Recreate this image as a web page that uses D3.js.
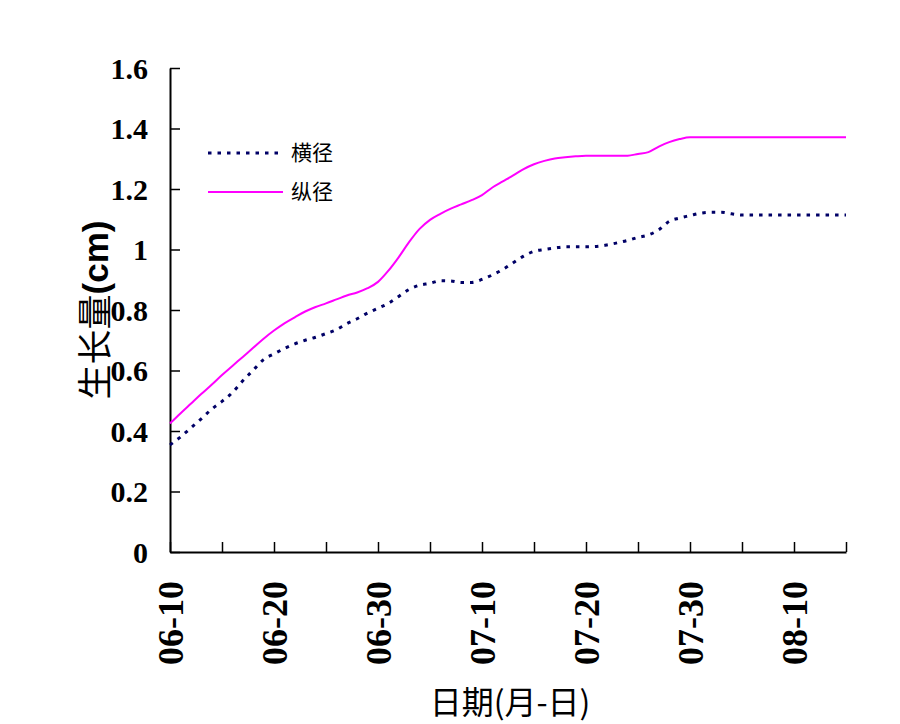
<!DOCTYPE html>
<html lang="zh">
<head>
<meta charset="UTF-8">
<title>生长量</title>
<script src="https://cdn.jsdelivr.net/npm/d3@7/dist/d3.min.js"></script>
<style>
body {
  margin: 0px;
  background: #fff;
}
.tick-label {
  font-family: "Liberation Serif", "Times New Roman", serif;
  font-weight: bold;
  fill: #000;
}
.cjk {
  font-family: "Noto Sans CJK SC", sans-serif;
}
</style>
</head>
<body>
<svg width="900" height="724"></svg>
<script>
// x axis labels every 10 days (category axis, one point per day)
const xTickLabels = ['06-10', '06-20', '06-30', '07-10', '07-20', '07-30', '08-10'];
const yTicks = [0, 0.2, 0.4, 0.6, 0.8, 1, 1.2, 1.4, 1.6];

// 横径, daily values (06-10 .. 08-15)
const hengjing = [
  0.354, 0.380, 0.410, 0.440, 0.472, 0.498, 0.527, 0.566, 0.601, 0.636,
  0.655, 0.673, 0.688, 0.700, 0.710, 0.722, 0.735, 0.755, 0.771, 0.790,
  0.806, 0.822, 0.845, 0.868, 0.882, 0.888, 0.897, 0.896, 0.891, 0.891,
  0.901, 0.916, 0.934, 0.956, 0.978, 0.994, 1.000, 1.005, 1.009, 1.009,
  1.009, 1.010, 1.015, 1.022, 1.030, 1.040, 1.048, 1.065, 1.093, 1.104,
  1.112, 1.120, 1.123, 1.123, 1.118, 1.114, 1.114, 1.114, 1.114, 1.114,
  1.114, 1.114, 1.114, 1.114, 1.114, 1.114
];

// 纵径
const zongjing = [
  0.425, 0.458, 0.490, 0.522, 0.553, 0.585, 0.615, 0.645, 0.675, 0.705,
  0.732, 0.756, 0.776, 0.795, 0.810, 0.822, 0.835, 0.848, 0.858, 0.872,
  0.893, 0.930, 0.975, 1.025, 1.068, 1.098, 1.118, 1.135, 1.149, 1.163,
  1.180, 1.205, 1.225, 1.245, 1.266, 1.282, 1.293, 1.301, 1.305, 1.308,
  1.310, 1.310, 1.310, 1.310, 1.310, 1.316, 1.322, 1.340, 1.355, 1.365,
  1.371, 1.371, 1.371, 1.371, 1.371, 1.371, 1.371, 1.371, 1.371, 1.371,
  1.371, 1.371, 1.371, 1.371, 1.371, 1.371
];

const seriesNames = ['横径', '纵径'];

const svg = d3.select('svg');
const margin = { top: 68, left: 170, right: 54, bottom: 172 };
const width = +svg.attr('width');
const height = +svg.attr('height');

const nDays = hengjing.length - 1;

const x = d3.scaleLinear()
  .domain([0, nDays])
  .range([margin.left, width - margin.right]);

const y = d3.scaleLinear()
  .domain([0, 1.6])
  .range([height - margin.bottom, margin.top]);

// y axis, ticks pointing inward
const yAxisG = svg.append('g')
  .attr('transform', `translate(${margin.left},0)`)
  .call(d3.axisRight(y).tickValues(yTicks).tickSize(10).tickSizeOuter(0).tickFormat(''));
yAxisG.select('.domain').attr('stroke', '#000').attr('stroke-width', 2);
yAxisG.selectAll('.tick line').attr('stroke', '#000').attr('stroke-width', 1.5);

svg.append('g').selectAll('text')
  .data(yTicks)
  .join('text')
    .attr('class', 'tick-label')
    .attr('x', margin.left - 22)
    .attr('y', d => y(d))
    .attr('dy', '0.35em')
    .attr('text-anchor', 'end')
    .attr('font-size', 30)
    .text(d => String(+d.toFixed(1)));

// x axis, ticks every 5 days pointing up
const xTicks = d3.range(0, nDays + 1, 5);
const xAxisG = svg.append('g')
  .attr('transform', `translate(0,${y(0)})`)
  .call(d3.axisTop(x).tickValues(xTicks).tickSize(10).tickSizeOuter(0).tickFormat(''));
xAxisG.select('.domain').attr('stroke', '#000').attr('stroke-width', 2);
xAxisG.selectAll('.tick line').attr('stroke', '#000').attr('stroke-width', 1.5);

svg.append('g').selectAll('text')
  .data(xTickLabels)
  .join('text')
    .attr('class', 'tick-label')
    .attr('font-size', 36)
    .attr('text-anchor', 'end')
    .attr('dy', '0.36em')
    .attr('transform', (d, i) => `translate(${x(i * 10)},${y(0) + 29}) rotate(-90)`)
    .text(d => d);

// axis titles
svg.append('text')
  .attr('class', 'cjk')
  .attr('x', 510)
  .attr('y', 714)
  .attr('text-anchor', 'middle')
  .attr('font-size', 32)
  .text('日期(月-日)');

const yTitle = svg.append('text')
  .attr('class', 'cjk')
  .attr('text-anchor', 'middle')
  .attr('transform', `translate(108,310) rotate(-90)`)
  .attr('font-size', 35);
yTitle.append('tspan').text('生长量');
yTitle.append('tspan')
  .attr('font-family', '"Liberation Sans", Arial, sans-serif')
  .attr('font-weight', 'bold')
  .attr('font-size', 35)
  .text('(cm)');

// lines
const line = d3.line()
  .x((d, i) => x(i))
  .y(d => y(d))
  .curve(d3.curveMonotoneX);

const styles = [
  { stroke: '#000066', width: 3, dash: '3.5,6' },
  { stroke: '#ff00ff', width: 2, dash: null }
];

[hengjing, zongjing].forEach((s, k) => {
  svg.append('path')
    .datum(s)
    .attr('fill', 'none')
    .attr('stroke', styles[k].stroke)
    .attr('stroke-width', styles[k].width)
    .attr('stroke-dasharray', styles[k].dash)
    .attr('d', line);
});

// legend
const legend = svg.append('g');
seriesNames.forEach((name, k) => {
  const ly = 153 + k * 39;
  legend.append('line')
    .attr('x1', 208).attr('x2', 283)
    .attr('y1', ly).attr('y2', ly)
    .attr('stroke', styles[k].stroke)
    .attr('stroke-width', styles[k].width)
    .attr('stroke-dasharray', styles[k].dash);
  legend.append('text')
    .attr('class', 'cjk')
    .attr('x', 291)
    .attr('y', ly)
    .attr('dy', '0.35em')
    .attr('font-size', 21)
    .text(name);
});
</script>
</body>
</html>
